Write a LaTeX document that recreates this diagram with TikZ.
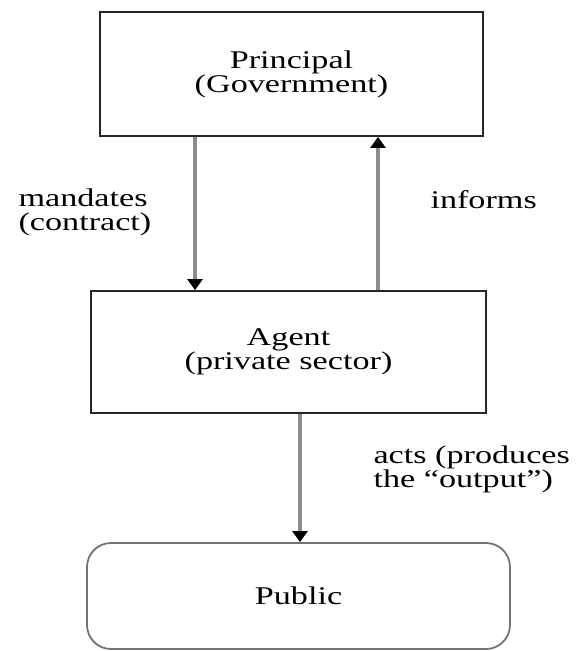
\documentclass[tikz,border=0pt]{standalone}
\usepackage{fontspec}
\setmainfont{Liberation Serif}[FakeStretch=1.34]
\usetikzlibrary{arrows.meta}

\tikzset{
  txt/.style={font=\fontsize{25.5}{24}\selectfont,align=center},
  box/.style={draw=black!85,line width=1.8pt,txt,inner sep=0pt},
  flow/.style={draw=black!45,line width=3.2pt,
    -{Triangle[width=15pt,length=11pt,black]}},
}

\begin{document}
\begin{tikzpicture}[x=1pt,y=-1pt]
\useasboundingbox (0,0) rectangle (577,651);

\node [box,minimum width=383pt,minimum height=124pt] (principal) at (291.5, 74) {Principal\\ (Government)};
\node [box,minimum width=395pt,minimum height=122pt] (agent)     at (288.5,352) {Agent\\ (private sector)};
\node [box,draw=black!55,rounded corners=24pt,
       minimum width=423pt,minimum height=106pt]     (public)    at (298.5,596) {Public};

\node [txt,align=left,anchor=base west] (mandates) at ( 15,230) {mandates\\ (contract)};
\node [txt,align=left,anchor=base west] (informs)  at (427,208) {informs};
\node [txt,align=left,anchor=base west] (acts)     at (370,487) {acts (produces\\ the ``output'')};

\draw [flow] ([xshift=-96.5pt]principal.south) -- ([xshift=-93.5pt]agent.north);
\draw [flow] ([xshift=89.5pt]agent.north) -- ([xshift=86.5pt]principal.south);
\draw [flow] ([xshift=11.5pt]agent.south) -- ([xshift=1.5pt]public.north);
\end{tikzpicture}
\end{document}
